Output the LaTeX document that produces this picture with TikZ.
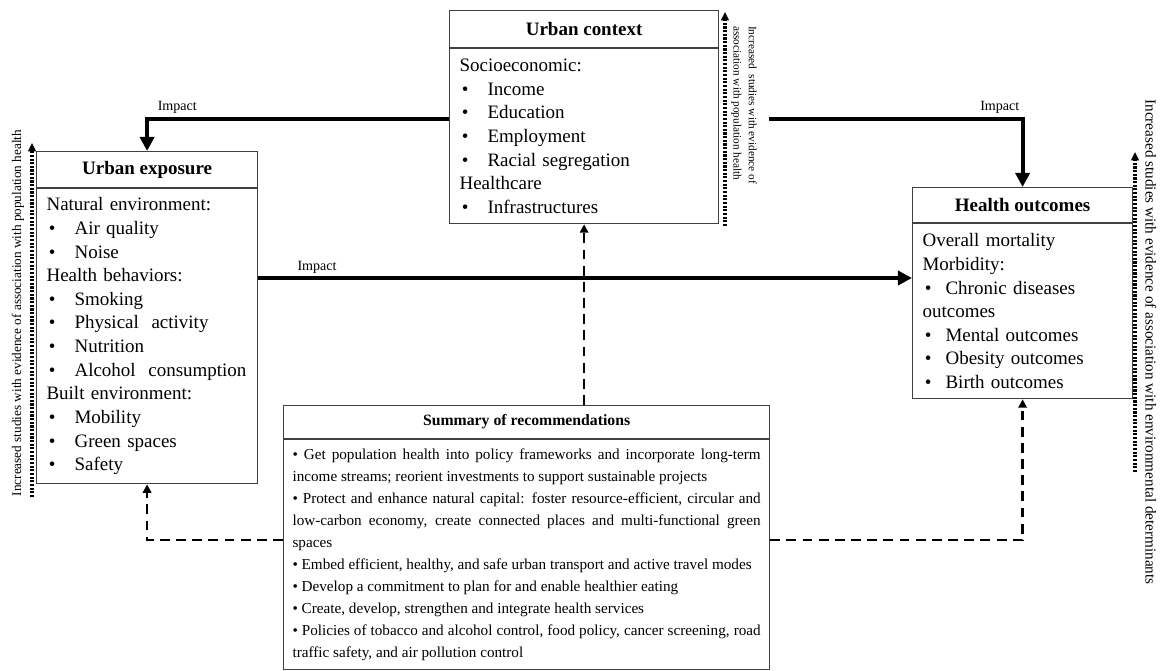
\documentclass[tikz,border=0pt]{standalone}
\usepackage{fontspec}
\setmainfont{Liberation Serif}
\usetikzlibrary{arrows.meta,calc}

\newcommand{\bitem}[1][0.7cm]{\makebox[#1][l]{\hspace{0.06cm}\textbullet}}

\tikzset{
  boxhead/.style={draw=black!75, line width=0.8pt, font=\fontsize{13.5}{16}\selectfont\bfseries, inner sep=0pt, anchor=north west},
  boxbody/.style={draw=black!75, line width=0.8pt, font=\fontsize{13.5}{16.8}\selectfont, inner xsep=0.25cm, inner ysep=0pt, align=left, anchor=north west},
  impact/.style={line width=2.8pt, -{Triangle[length=10pt,width=10pt]}},
  impactlbl/.style={font=\fontsize{10}{12}\selectfont, inner sep=2pt},
  recarrow/.style={line width=1.9pt, dash pattern=on 7pt off 4.5pt, -{Triangle[length=6pt,width=6pt]}},
  evidarrow/.style={line width=2.4pt, dash pattern=on 1.5pt off 1.1pt, -{Triangle[length=6pt,width=5.5pt]}},
  evidlbl/.style={font=\fontsize{9.4}{11.5}\selectfont, inner sep=0pt}
}

\begin{document}
\begin{tikzpicture}[x=0.025cm, y=-0.025cm]
	\useasboundingbox (0,0) rectangle (1161,670);

	% the four boxes
	\node[boxhead, minimum width=6.725cm, minimum height=0.925cm] (ctxhead) at (449,10) {Urban context};
	\node[boxbody, text width=6.225cm, minimum height=4.375cm] (ctx) at (ctxhead.south west) {Socioeconomic:\\
		\bitem Income\\
		\bitem Education\\
		\bitem Employment\\
		\bitem Racial segregation\\
		Healthcare\\
		\bitem Infrastructures};

	\node[boxhead, minimum width=5.525cm, minimum height=0.9cm] (exphead) at (36,151) {Urban exposure};
	\node[boxbody, text width=5.025cm, minimum height=7.375cm] (exp) at (exphead.south west) {Natural environment:\\
		\bitem Air quality\\
		\bitem Noise\\
		Health behaviors:\\
		\bitem Smoking\\
		\bitem Physical\ \ activity\\
		\bitem Nutrition\\
		\bitem Alcohol\ \ consumption\\
		Built environment:\\
		\bitem Mobility\\
		\bitem Green spaces\\
		\bitem Safety};

	\node[boxhead, minimum width=5.5cm, minimum height=0.875cm] (houthead) at (912,187) {Health outcomes};
	\node[boxbody, text width=5.0cm, minimum height=4.375cm] (hout) at (houthead.south west) {Overall mortality\\
		Morbidity:\\
		\bitem[0.575cm]Chronic diseases\\
		outcomes\\
		\bitem[0.575cm]Mental outcomes\\
		\bitem[0.575cm]Obesity outcomes\\
		\bitem[0.575cm]Birth outcomes};

	\node[boxhead, minimum width=12.15cm, minimum height=0.825cm, font=\fontsize{11.2}{13}\selectfont\bfseries] (sumhead) at (283,405) {Summary of recommendations};
	\node[boxbody, text width=11.7cm, inner xsep=0.225cm, minimum height=5.75cm, align=justify, font=\fontsize{10.8}{15.6}\selectfont] (sum) at (sumhead.south west) {%
		\textbullet\ Get population health into policy frameworks and incorporate long-term\linebreak income streams; reorient investments to support sustainable projects\par
		\textbullet\ Protect and enhance natural capital: foster resource-efficient, circular and\linebreak low-carbon economy, create connected places and multi-functional green\linebreak spaces\par
		\textbullet\ Embed efficient, healthy, and safe urban transport and active travel modes\par
		\textbullet\ Develop a commitment to plan for and enable healthier eating\par
		\textbullet\ Create, develop, strengthen and integrate health services\par
		\textbullet\ Policies of tobacco and alcohol control, food policy, cancer screening, road\linebreak traffic safety, and air pollution control};

	% impact arrows
	\draw[impact] ($(ctx.north west)!0.4!(ctx.south west)$) -| node[impactlbl, pos=0.45, above] {Impact} (exphead.north);
	\draw[impact] ([xshift=1.25cm]$(ctx.north east)!0.4!(ctx.south east)$) -| node[impactlbl, pos=0.455, above] {Impact} (houthead.north);
	\coordinate (impactlvl) at (0,278);
	\draw[impact] (exp.east |- impactlvl) -- node[impactlbl, pos=0.09, above] {Impact} (hout.west |- impactlvl);

	% recommendations
	\coordinate (reclvl) at (0,540);
	\draw[recarrow] (ctx.south |- sumhead.north) -- (ctx.south);
	\draw[recarrow] (sum.west |- reclvl) -| (exp.south);
	\draw[recarrow] (sum.east |- reclvl) -| (hout.south);

	% evidence
	\coordinate (evexpa) at (32,497);
	\coordinate (evexpb) at (32,143);
	\draw[evidarrow] (evexpa) -- (evexpb);
	\node[evidlbl, rotate=90] (evexp) at (18,313) {Increased studies with evidence of association with population health};

	\coordinate (evctxa) at (725,226);
	\coordinate (evctxb) at (725,12);
	\draw[evidarrow] (evctxa) -- (evctxb);
	\node[evidlbl, rotate=-90, align=left, font=\fontsize{8}{11}\selectfont] (evctx) at (744,105) {Increased\ \ studies with evidence of\\ association with population health};

	\coordinate (evhouta) at (1135,472);
	\coordinate (evhoutb) at (1135,152);
	\draw[evidarrow] (evhouta) -- (evhoutb);
	\node[evidlbl, rotate=-90, font=\fontsize{10.8}{13}\selectfont] (evhout) at (1151,342) {Increased studies with evidence of association with environmental determinants};
\end{tikzpicture}
\end{document}
